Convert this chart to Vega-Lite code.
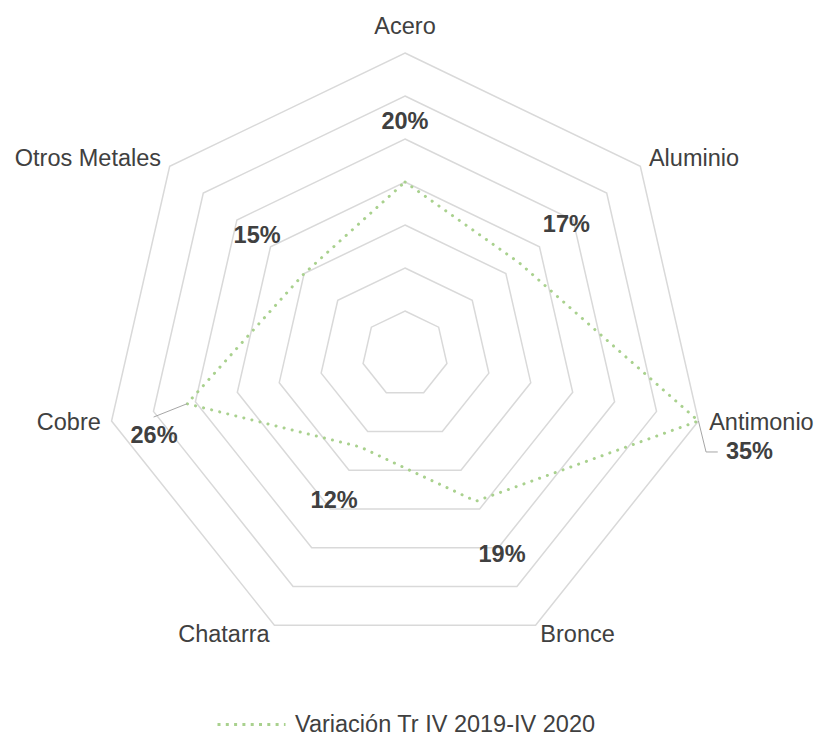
{
  "$schema": "https://vega.github.io/schema/vega-lite/v6.json",
  "width": 817,
  "height": 735,
  "autosize": {"type": "none"},
  "padding": 0,
  "background": "white",
  "config": {"view": {"stroke": null}, "font": "Liberation Sans"},
  "datasets": {
    "metals": [
      {"serie": "Variación Tr IV 2019-IV 2020", "metal": "Acero", "value": 20, "i": 0},
      {"serie": "Variación Tr IV 2019-IV 2020", "metal": "Aluminio", "value": 17, "i": 1},
      {"serie": "Variación Tr IV 2019-IV 2020", "metal": "Antimonio", "value": 35, "i": 2},
      {"serie": "Variación Tr IV 2019-IV 2020", "metal": "Bronce", "value": 19, "i": 3},
      {"serie": "Variación Tr IV 2019-IV 2020", "metal": "Chatarra", "value": 12, "i": 4},
      {"serie": "Variación Tr IV 2019-IV 2020", "metal": "Cobre", "value": 26, "i": 5},
      {"serie": "Variación Tr IV 2019-IV 2020", "metal": "Otros Metales", "value": 15, "i": 6}
    ],
    "grid": [
      {"ring": 5, "i": 0}, {"ring": 5, "i": 1}, {"ring": 5, "i": 2}, {"ring": 5, "i": 3}, {"ring": 5, "i": 4}, {"ring": 5, "i": 5}, {"ring": 5, "i": 6},
      {"ring": 10, "i": 0}, {"ring": 10, "i": 1}, {"ring": 10, "i": 2}, {"ring": 10, "i": 3}, {"ring": 10, "i": 4}, {"ring": 10, "i": 5}, {"ring": 10, "i": 6},
      {"ring": 15, "i": 0}, {"ring": 15, "i": 1}, {"ring": 15, "i": 2}, {"ring": 15, "i": 3}, {"ring": 15, "i": 4}, {"ring": 15, "i": 5}, {"ring": 15, "i": 6},
      {"ring": 20, "i": 0}, {"ring": 20, "i": 1}, {"ring": 20, "i": 2}, {"ring": 20, "i": 3}, {"ring": 20, "i": 4}, {"ring": 20, "i": 5}, {"ring": 20, "i": 6},
      {"ring": 25, "i": 0}, {"ring": 25, "i": 1}, {"ring": 25, "i": 2}, {"ring": 25, "i": 3}, {"ring": 25, "i": 4}, {"ring": 25, "i": 5}, {"ring": 25, "i": 6},
      {"ring": 30, "i": 0}, {"ring": 30, "i": 1}, {"ring": 30, "i": 2}, {"ring": 30, "i": 3}, {"ring": 30, "i": 4}, {"ring": 30, "i": 5}, {"ring": 30, "i": 6},
      {"ring": 35, "i": 0}, {"ring": 35, "i": 1}, {"ring": 35, "i": 2}, {"ring": 35, "i": 3}, {"ring": 35, "i": 4}, {"ring": 35, "i": 5}, {"ring": 35, "i": 6}
    ]
  },
  "encoding": {
    "x": {"field": "x", "type": "quantitative", "scale": {"domain": [-405, 412], "nice": false, "zero": false}, "axis": null},
    "y": {"field": "y", "type": "quantitative", "scale": {"domain": [-381, 354], "nice": false, "zero": false}, "axis": null}
  },
  "layer": [
    {
      "data": {"name": "grid"},
      "transform": [
        {"calculate": "datum.i * 2 * PI / 7", "as": "a"},
        {"calculate": "datum.ring * 8.6 * sin(datum.a)", "as": "x"},
        {"calculate": "datum.ring * 8.6 * cos(datum.a)", "as": "y"}
      ],
      "mark": {"type": "line", "interpolate": "linear-closed", "stroke": "#D9D9D9", "strokeWidth": 1.5},
      "encoding": {"detail": {"field": "ring", "type": "nominal"}, "order": {"field": "i", "type": "quantitative"}}
    },
    {
      "data": {"name": "metals"},
      "transform": [
        {"calculate": "datum.i * 2 * PI / 7", "as": "a"},
        {"calculate": "datum.value * 8.6 * sin(datum.a)", "as": "x"},
        {"calculate": "datum.value * 8.6 * cos(datum.a)", "as": "y"}
      ],
      "mark": {"type": "line", "interpolate": "linear-closed", "strokeWidth": 3, "strokeCap": "round", "strokeDash": [0.1, 8.2]},
      "encoding": {
        "order": {"field": "i", "type": "quantitative"},
        "color": {
          "field": "serie", "type": "nominal",
          "scale": {"range": ["#A9D18E"]},
          "legend": {
            "title": null, "orient": "none", "legendX": 216, "legendY": 689,
            "symbolType": "stroke", "symbolSize": 4624, "symbolStrokeWidth": 3,
            "symbolDash": [3, 5.3], "symbolStrokeColor": "#A9D18E",
            "labelFontSize": 23.5, "labelColor": "#404040", "labelFont": "Liberation Sans",
            "labelOffset": 8, "labelLimit": 0, "padding": 0
          }
        }
      }
    },
    {
      "data": {"name": "metals"},
      "transform": [
        {"filter": "datum.metal != 'Antimonio' && datum.metal != 'Cobre'"},
        {"calculate": "datum.i * 2 * PI / 7", "as": "a"},
        {"calculate": "(datum.value + 7) * 8.6 * sin(datum.a)", "as": "x"},
        {"calculate": "(datum.value + 7) * 8.6 * cos(datum.a)", "as": "y"},
        {"calculate": "datum.value + '%'", "as": "label"}
      ],
      "mark": {"type": "text", "fontSize": 23.5, "fontWeight": "bold", "fill": "#404040", "align": "center", "baseline": "middle"},
      "encoding": {"text": {"field": "label"}}
    },
    {
      "data": {"name": "metals"},
      "transform": [
        {"filter": "datum.metal == 'Antimonio'"},
        {"calculate": "datum.i * 2 * PI / 7", "as": "a"},
        {"calculate": "datum.value * 8.6 * sin(datum.a)", "as": "x"},
        {"calculate": "datum.value * 8.6 * cos(datum.a)", "as": "y"},
        {"calculate": "datum.value + '%'", "as": "label"}
      ],
      "mark": {"type": "text", "fontSize": 23.5, "fontWeight": "bold", "fill": "#404040", "align": "center", "baseline": "middle", "dx": 51, "dy": 31},
      "encoding": {"text": {"field": "label"}}
    },
    {
      "data": {"name": "metals"},
      "transform": [
        {"filter": "datum.metal == 'Cobre'"},
        {"calculate": "datum.i * 2 * PI / 7", "as": "a"},
        {"calculate": "datum.value * 8.6 * sin(datum.a)", "as": "x"},
        {"calculate": "datum.value * 8.6 * cos(datum.a)", "as": "y"},
        {"calculate": "datum.value + '%'", "as": "label"}
      ],
      "mark": {"type": "text", "fontSize": 23.5, "fontWeight": "bold", "fill": "#404040", "align": "center", "baseline": "middle", "dx": -33, "dy": 32},
      "encoding": {"text": {"field": "label"}}
    },
    {
      "data": {"name": "metals"},
      "transform": [
        {"filter": "datum.metal == 'Antimonio'"},
        {"calculate": "datum.i * 2 * PI / 7", "as": "a"},
        {"calculate": "datum.value * 8.6 * sin(datum.a)", "as": "x"},
        {"calculate": "datum.value * 8.6 * cos(datum.a)", "as": "y"},
        {"calculate": "datum.x + 7.6", "as": "x2"},
        {"calculate": "datum.y - 31", "as": "y2"}
      ],
      "mark": {"type": "rule", "stroke": "#A6A6A6", "strokeWidth": 1},
      "encoding": {"x2": {"field": "x2"}, "y2": {"field": "y2"}}
    },
    {
      "data": {"name": "metals"},
      "transform": [
        {"filter": "datum.metal == 'Antimonio'"},
        {"calculate": "datum.i * 2 * PI / 7", "as": "a"},
        {"calculate": "datum.value * 8.6 * sin(datum.a) + 7.6", "as": "x"},
        {"calculate": "datum.value * 8.6 * cos(datum.a) - 31", "as": "y"},
        {"calculate": "datum.x + 11.7", "as": "x2"}
      ],
      "mark": {"type": "rule", "stroke": "#A6A6A6", "strokeWidth": 1},
      "encoding": {"x2": {"field": "x2"}, "y2": {"field": "y"}}
    },
    {
      "data": {"name": "metals"},
      "transform": [
        {"filter": "datum.metal == 'Cobre'"},
        {"calculate": "datum.i * 2 * PI / 7", "as": "a"},
        {"calculate": "datum.value * 8.6 * sin(datum.a)", "as": "x"},
        {"calculate": "datum.value * 8.6 * cos(datum.a)", "as": "y"},
        {"calculate": "datum.x - 33.4", "as": "x2"},
        {"calculate": "datum.y - 13.3", "as": "y2"}
      ],
      "mark": {"type": "rule", "stroke": "#A6A6A6", "strokeWidth": 1},
      "encoding": {"x2": {"field": "x2"}, "y2": {"field": "y2"}}
    },
    {
      "data": {"name": "metals"},
      "transform": [
        {"filter": "datum.i == 0"},
        {"calculate": "datum.i * 2 * PI / 7", "as": "a"},
        {"calculate": "312 * sin(datum.a)", "as": "x"},
        {"calculate": "312 * cos(datum.a)", "as": "y"}
      ],
      "mark": {"type": "text", "fontSize": 23.5, "fill": "#404040", "align": "center", "baseline": "middle", "dy": -15},
      "encoding": {"text": {"field": "metal"}}
    },
    {
      "data": {"name": "metals"},
      "transform": [
        {"filter": "datum.i >= 1 && datum.i <= 3"},
        {"calculate": "datum.i * 2 * PI / 7", "as": "a"},
        {"calculate": "312 * sin(datum.a)", "as": "x"},
        {"calculate": "312 * cos(datum.a)", "as": "y"}
      ],
      "mark": {"type": "text", "fontSize": 23.5, "fill": "#404040", "align": "left", "baseline": "middle"},
      "encoding": {"text": {"field": "metal"}}
    },
    {
      "data": {"name": "metals"},
      "transform": [
        {"filter": "datum.i >= 4"},
        {"calculate": "datum.i * 2 * PI / 7", "as": "a"},
        {"calculate": "312 * sin(datum.a)", "as": "x"},
        {"calculate": "312 * cos(datum.a)", "as": "y"}
      ],
      "mark": {"type": "text", "fontSize": 23.5, "fill": "#404040", "align": "right", "baseline": "middle"},
      "encoding": {"text": {"field": "metal"}}
    }
  ]
}
